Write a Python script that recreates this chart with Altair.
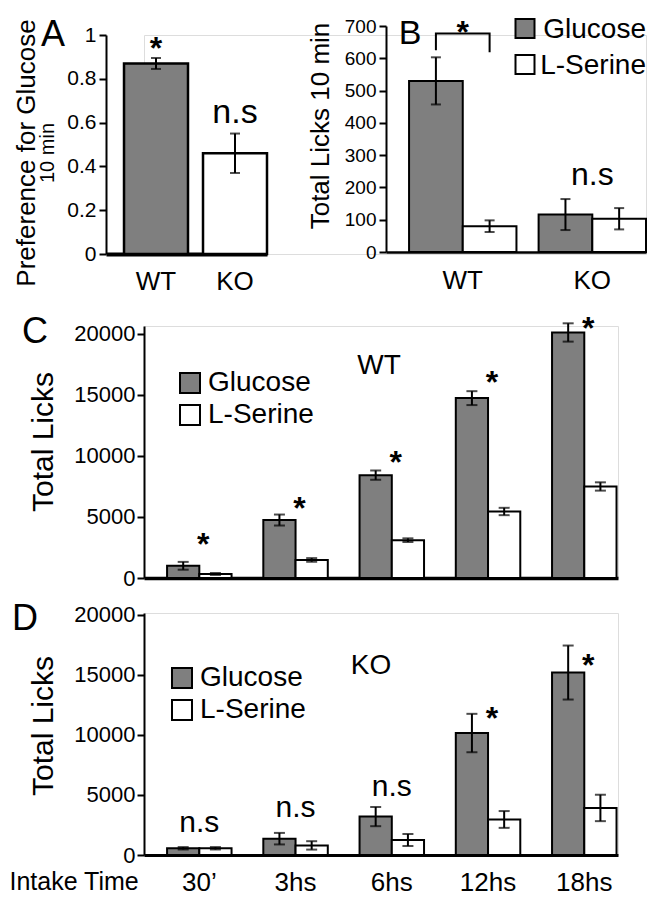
import altair as alt
import pandas as pd

FONT = "Liberation Sans, Arial, Helvetica, sans-serif"
GRAY = "#7f7f7f"

# ---------------- data ----------------
substances = ["Glucose", "L-Serine"]

# Panel A: preference for glucose (10 min)
a_genotype = ["WT", "KO"]
a_pref = [0.87, 0.46]
a_pref_sem = [0.025, 0.09]
a_star_y = [0.973]      # "*" above WT
a_ns_y = [0.639]        # "n.s" above KO

# Panel B: total licks 10 min
b_genotype = ["WT", "KO"]
b_glucose = [530, 116]
b_glucose_sem = [73, 48]
b_serine = [80, 103]
b_serine_sem = [18, 33]
b_star_y = [704]
b_ns_y = [231]
b_bracket_y = [625, 677, 677, 619]

# Panels C/D: intake time course
times = ["30’", "3hs", "6hs", "12hs", "18hs"]
c_glucose = [1000, 4750, 8430, 14740, 20120]
c_glucose_sem = [320, 450, 380, 570, 750]
c_serine = [330, 1480, 3100, 5450, 7500]
c_serine_sem = [80, 150, 150, 300, 340]
c_notes = ["*", "*", "*", "*", "*"]
c_note_y = [3320, 6350, 10120, 16640, 21100]

d_glucose = [560, 1360, 3200, 10160, 15200]
d_glucose_sem = [100, 480, 800, 1600, 2250]
d_serine = [560, 800, 1250, 2960, 3920]
d_serine_sem = [100, 350, 500, 700, 1100]
d_notes = ["n.s", "n.s", "n.s", "*", "*"]
d_note_y = [2560, 3840, 5600, 12000, 16400]

STAR = dict(text="*", fontSize=32, fontWeight="bold", font=FONT, dy=18,
            baseline="alphabetic", color="black")


def pair_frame(groups, g_mean, g_sem, s_mean, s_sem):
    rows = []
    for i, g in enumerate(groups):
        rows.append(dict(group=g, substance="Glucose", mean=g_mean[i],
                         lo=g_mean[i] - g_sem[i], hi=g_mean[i] + g_sem[i]))
        rows.append(dict(group=g, substance="L-Serine", mean=s_mean[i],
                         lo=s_mean[i] - s_sem[i], hi=s_mean[i] + s_sem[i]))
    return pd.DataFrame(rows)


def anchor(x, y):
    # invisible 1px point that pins the extent of a panel's layout cell
    return alt.Chart(pd.DataFrame({"m": [0]})).mark_square(
        size=1, opacity=0, fill="white").encode(x=alt.value(x), y=alt.value(y))


def free_text(text, x, y, size, angle=0, baseline="alphabetic", align="center"):
    return alt.Chart(pd.DataFrame({"t": [text]})).mark_text(
        text=text, fontSize=size, font=FONT, angle=angle, baseline=baseline,
        align=align, color="black").encode(x=alt.value(x), y=alt.value(y))


def free_square(x, y, fill):
    return alt.Chart(pd.DataFrame({"m": [0]})).mark_square(
        size=361, fill=fill, fillOpacity=1, stroke="black", strokeWidth=2,
        opacity=1).encode(x=alt.value(x), y=alt.value(y))


def yaxis(values, fmt, size, pad=3, offset=0):
    return alt.Axis(values=values, format=fmt, title=None, grid=False, orient="left",
                    offset=offset, labelFontSize=size, labelFont=FONT, labelColor="black",
                    tickSize=7, tickWidth=2, tickColor="black",
                    domainWidth=2, domainColor="black", labelPadding=pad)


def offset_enc():
    return alt.XOffset("substance:N", sort=substances,
                       scale=alt.Scale(domain=substances, paddingInner=0, paddingOuter=0))


def build_pairs(df, groups, xscale, xaxis, ysc, yax, legend, bar_sw=2, cap=11):
    xenc = alt.X("group:N", sort=groups, scale=xscale, axis=xaxis, title=None)
    xoff = offset_enc()
    bars = alt.Chart(df).mark_bar(stroke="black", strokeWidth=bar_sw).encode(
        x=xenc, xOffset=xoff,
        y=alt.Y("mean:Q", scale=ysc, axis=yax),
        fill=alt.Fill("substance:N", scale=alt.Scale(domain=substances, range=[GRAY, "white"]),
                      legend=legend))
    err = alt.Chart(df).mark_rule(color="black", strokeWidth=2).encode(
        x=xenc, xOffset=xoff, y=alt.Y("lo:Q", scale=ysc, axis=yax), y2="hi:Q")
    cap_lo = alt.Chart(df).mark_tick(color="black", thickness=2, size=cap).encode(
        x=xenc, xOffset=xoff, y=alt.Y("lo:Q", scale=ysc, axis=yax))
    cap_hi = alt.Chart(df).mark_tick(color="black", thickness=2, size=cap).encode(
        x=xenc, xOffset=xoff, y=alt.Y("hi:Q", scale=ysc, axis=yax))
    return [bars, err, cap_lo, cap_hi], xenc


def legend_def(lx, ly, rowpad):
    return alt.Legend(orient="none", legendX=lx, legendY=ly, title=None,
                      symbolType="square", symbolSize=400, symbolStrokeColor="black",
                      symbolStrokeWidth=2, symbolOpacity=1, labelFontSize=28,
                      labelFont=FONT, labelColor="black", rowPadding=rowpad,
                      labelOffset=4, padding=0)


# ---------------- Row 1 (panels A and B share one view) ----------------
ROW_W, ROW_H = 502, 219

a_df = pd.DataFrame({"group": a_genotype, "mean": a_pref,
                     "lo": [m - s for m, s in zip(a_pref, a_pref_sem)],
                     "hi": [m + s for m, s in zip(a_pref, a_pref_sem)]})
a_xs = alt.Scale(domain=a_genotype, range=[-38, 123], paddingInner=0.19,
                 paddingOuter=0.114, align=1)
a_xaxis = alt.Axis(title=None, orient="bottom", labelAngle=0, labelFontSize=26,
                   labelFont=FONT, labelColor="black", labelPadding=14, ticks=False,
                   domainWidth=4, domainColor="black")
a_x = alt.X("group:N", sort=a_genotype, scale=a_xs, axis=a_xaxis, title=None)
a_ys = alt.Scale(domain=[0, 1], range=[219, 0], nice=False, zero=False)
a_yax = yaxis([0, 0.2, 0.4, 0.6, 0.8, 1], "~g", 21, pad=3, offset=38)

a_bars = alt.Chart(a_df).mark_bar(stroke="black", strokeWidth=2.5).encode(
    x=a_x, y=alt.Y("mean:Q", scale=a_ys, axis=a_yax),
    fill=alt.Fill("group:N", scale=alt.Scale(domain=a_genotype, range=[GRAY, "white"]),
                  legend=None))
a_err = alt.Chart(a_df).mark_rule(color="black", strokeWidth=2).encode(
    x=a_x, y=alt.Y("lo:Q", scale=a_ys, axis=a_yax), y2="hi:Q")
a_cl = alt.Chart(a_df).mark_tick(color="black", thickness=2, size=10).encode(
    x=a_x, y=alt.Y("lo:Q", scale=a_ys, axis=a_yax))
a_ch = alt.Chart(a_df).mark_tick(color="black", thickness=2, size=10).encode(
    x=a_x, y=alt.Y("hi:Q", scale=a_ys, axis=a_yax))
a_star = alt.Chart(pd.DataFrame({"group": ["WT"], "y": a_star_y})).mark_text(**STAR).encode(
    x=a_x, y=alt.Y("y:Q", scale=a_ys, axis=a_yax))
a_ns = alt.Chart(pd.DataFrame({"group": ["KO"], "y": a_ns_y})).mark_text(
    text="n.s", fontSize=34, font=FONT, dy=9, baseline="alphabetic",
    color="black").encode(x=a_x, y=alt.Y("y:Q", scale=a_ys, axis=a_yax))
layer_a = alt.layer(a_bars, a_err, a_cl, a_ch, a_star, a_ns)

b_df = pair_frame(b_genotype, b_glucose, b_glucose_sem, b_serine, b_serine_sem)
b_xs = alt.Scale(domain=b_genotype, range=[242, ROW_W], paddingInner=0.171,
                 paddingOuter=0.089, align=1)
b_xaxis = alt.Axis(title=None, orient="bottom", offset=-2, labelAngle=0, labelFontSize=26,
                   labelFont=FONT, labelColor="black", labelPadding=15, ticks=False,
                   domainWidth=2.5, domainColor="black")
b_ys = alt.Scale(domain=[0, 700], range=[217, -9], nice=False, zero=False)
b_yax = yaxis([0, 100, 200, 300, 400, 500, 600, 700], "d", 19, pad=3, offset=-242)
b_layers, b_x = build_pairs(b_df, b_genotype, b_xs, b_xaxis, b_ys, b_yax,
                            None, bar_sw=2, cap=10)
b_bracket = alt.Chart(pd.DataFrame({
    "group": ["WT"] * 4,
    "substance": ["Glucose", "Glucose", "L-Serine", "L-Serine"],
    "y": b_bracket_y, "o": [0, 1, 2, 3]})).mark_line(color="black", strokeWidth=2).encode(
    x=b_x, xOffset=offset_enc(), y=alt.Y("y:Q", scale=b_ys, axis=b_yax), order="o:Q")
b_star = alt.Chart(pd.DataFrame({"group": ["WT"], "y": b_star_y})).mark_text(**STAR).encode(
    x=b_x, y=alt.Y("y:Q", scale=b_ys, axis=b_yax))
b_ns = alt.Chart(pd.DataFrame({"group": ["KO"], "y": b_ns_y})).mark_text(
    text="n.s", fontSize=32, font=FONT, dy=8, baseline="alphabetic",
    color="black").encode(x=b_x, y=alt.Y("y:Q", scale=b_ys, axis=b_yax))
layer_b = alt.layer(*b_layers, b_bracket, b_star, b_ns)

row1 = alt.layer(
    anchor(-135, -26), anchor(ROW_W, 266), layer_a, layer_b,
    free_text("A", -91, 11, 36),
    free_text("Preference for Glucose", -117, 118, 26, angle=270, baseline="middle"),
    free_text("10 min", -96, 118, 20, angle=270, baseline="middle"),
    free_text("B", 266, 9, 34),
    free_text("Total Licks 10 min", 177, 91, 26, angle=270, baseline="middle"),
    # legend of panel B
    free_square(381, -6.5, GRAY),
    free_square(381, 29.5, "white"),
    free_text(substances[0], ROW_W, 3, 28, align="right"),
    free_text(substances[1], ROW_W, 39, 28, align="right"),
).resolve_scale(x="independent", y="independent", fill="independent",
                xOffset="independent").properties(width=ROW_W, height=ROW_H)

# ---------------- Panels C and D ----------------
cd_xs = alt.Scale(domain=times, paddingInner=0.33, paddingOuter=0.1275, align=0.94)
cd_yvals = [0, 5000, 10000, 15000, 20000]


def time_panel(gm, gs, sm, ss, notes, note_y, ymax, height, xaxis, leg, letter,
               letter_xy, tag, tag_xy, cell, title_y):
    df = pair_frame(times, gm, gs, sm, ss)
    ys = alt.Scale(domain=[0, ymax], nice=False, zero=False)
    yax = yaxis(cd_yvals, "d", 22, pad=2)
    layers, xenc = build_pairs(df, times, cd_xs, xaxis, ys, yax, leg, bar_sw=2, cap=11)
    nd = pd.DataFrame({"group": times, "note": notes, "y": note_y})
    stars = alt.Chart(nd).transform_filter(alt.datum.note == "*").mark_text(
        dx=4, **STAR).encode(x=xenc, y=alt.Y("y:Q", scale=ys, axis=yax))
    ns = alt.Chart(nd).transform_filter(alt.datum.note == "n.s").mark_text(
        text="n.s", fontSize=30, font=FONT, dy=8, baseline="alphabetic",
        color="black").encode(x=xenc, y=alt.Y("y:Q", scale=ys, axis=yax))
    return alt.layer(
        anchor(cell[0], cell[2]), anchor(cell[1], cell[3]), *layers, stars, ns,
        free_text(letter, letter_xy[0], letter_xy[1], 36),
        free_text(tag, tag_xy[0], tag_xy[1], 28),
        free_text("Total Licks", -100, title_y, 30, angle=270, baseline="middle"),
    ).properties(width=474, height=height)


c_xaxis = alt.Axis(title=None, labels=False, ticks=False, domainWidth=3.5,
                   domainColor="black")
panel_c = time_panel(c_glucose, c_glucose_sem, c_serine, c_serine_sem, c_notes, c_note_y,
                     20650, 252, c_xaxis, legend_def(32, 43, 4), "C", (-109, 17),
                     "WT", (235, 48), (-135, 474, -23, 264), 116)

d_xaxis = alt.Axis(title="Intake Time", labelAngle=0, labelFontSize=26, labelFont=FONT,
                   labelColor="black", labelPadding=14, ticks=False, domainWidth=3,
                   domainColor="black", titleX=-135, titleY=14, titleAlign="left",
                   titleBaseline="top", titleFontSize=25, titleFont=FONT,
                   titleFontWeight="normal", titleColor="black", titleAnchor="start")
panel_d = time_panel(d_glucose, d_glucose_sem, d_serine, d_serine_sem, d_notes, d_note_y,
                     20160, 242, d_xaxis, legend_def(24, 51, 4), "D", (-119, 17),
                     "KO", (227, 61), (-135, 474, -21, 262), 113)

chart = alt.vconcat(row1, panel_c, panel_d, spacing=0).resolve_scale(
    fill="independent", xOffset="independent").properties(padding=0).configure_view(
    stroke=None).configure(background="white", font=FONT)

chart.save("out.html", embed_options={"renderer": "svg", "actions": False})
